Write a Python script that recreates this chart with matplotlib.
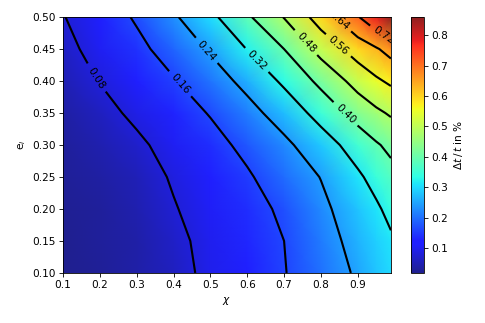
import numpy as np
import matplotlib
matplotlib.use("Agg")
import matplotlib.pyplot as plt
from matplotlib.colors import ListedColormap

# grid
chi = [0.1, 0.2, 0.3, 0.4, 0.5, 0.6, 0.7, 0.8, 0.9, 0.95, 0.99]
e_i = [0.10, 0.15, 0.20, 0.25, 0.30, 0.35, 0.40, 0.45, 0.50]

# dt/t in %, one row per e_i value (bottom to top)
dt_010 = [0.018, 0.026, 0.038, 0.060, 0.094, 0.126, 0.157, 0.201, 0.249, 0.278, 0.300]
dt_015 = [0.020, 0.028, 0.040, 0.065, 0.098, 0.130, 0.160, 0.212, 0.262, 0.290, 0.310]
dt_020 = [0.022, 0.030, 0.045, 0.076, 0.106, 0.137, 0.171, 0.224, 0.279, 0.309, 0.340]
dt_025 = [0.025, 0.035, 0.053, 0.086, 0.119, 0.152, 0.196, 0.242, 0.308, 0.345, 0.374]
dt_030 = [0.030, 0.045, 0.068, 0.103, 0.137, 0.177, 0.224, 0.284, 0.354, 0.392, 0.418]
dt_035 = [0.035, 0.060, 0.093, 0.128, 0.164, 0.215, 0.273, 0.347, 0.430, 0.465, 0.489]
dt_040 = [0.050, 0.082, 0.118, 0.155, 0.204, 0.261, 0.333, 0.419, 0.509, 0.548, 0.573]
dt_045 = [0.062, 0.102, 0.142, 0.190, 0.248, 0.322, 0.400, 0.507, 0.596, 0.632, 0.668]
dt_050 = [0.077, 0.121, 0.168, 0.230, 0.302, 0.388, 0.483, 0.595, 0.714, 0.782, 0.860]

levels = [0.08, 0.16, 0.24, 0.32, 0.40, 0.48, 0.56, 0.64, 0.72]
# where the contour labels sit (chi, e_i)
label_pos = [(0.19, 0.405), (0.42, 0.397), (0.49, 0.448), (0.626, 0.433),
             (0.864, 0.347), (0.761, 0.461), (0.843, 0.453), (0.845, 0.493),
             (0.965, 0.467)]

Z = np.array([dt_010, dt_015, dt_020, dt_025, dt_030, dt_035, dt_040, dt_045, dt_050])
X, Y = np.meshgrid(chi, e_i)

# jet, slightly washed out like the original
jet = plt.get_cmap('jet')(np.linspace(0, 1, 256))
jet[:, :3] = jet[:, :3] * 0.88 + 0.12
cmap = ListedColormap(jet)

fig = plt.figure(figsize=(6.4, 6.4 * 323 / 485), dpi=485 / 6.4)
ax = fig.add_axes([0.130, 0.155, 0.676, 0.792])
cax = fig.add_axes([0.847, 0.155, 0.027, 0.792])

pc = ax.pcolormesh(X, Y, Z, shading='gouraud', cmap=cmap)
cs = ax.contour(X, Y, Z, levels=levels, colors='k', linewidths=2)
ax.clabel(cs, fmt='%.2f', fontsize=10, manual=label_pos)

ax.set_xlim(0.1, 0.99)
ax.set_ylim(0.1, 0.5)
ax.set_xticks(np.arange(0.1, 0.95, 0.1))
ax.set_yticks(np.arange(0.1, 0.51, 0.05))
ax.set_xlabel(r'$\chi$')
ax.set_ylabel(r'e$_i$')

cb = fig.colorbar(pc, cax=cax)
cb.set_label(r'$\Delta t\,/\,t$ in %')

fig.savefig('out.png', dpi=485 / 6.4)
